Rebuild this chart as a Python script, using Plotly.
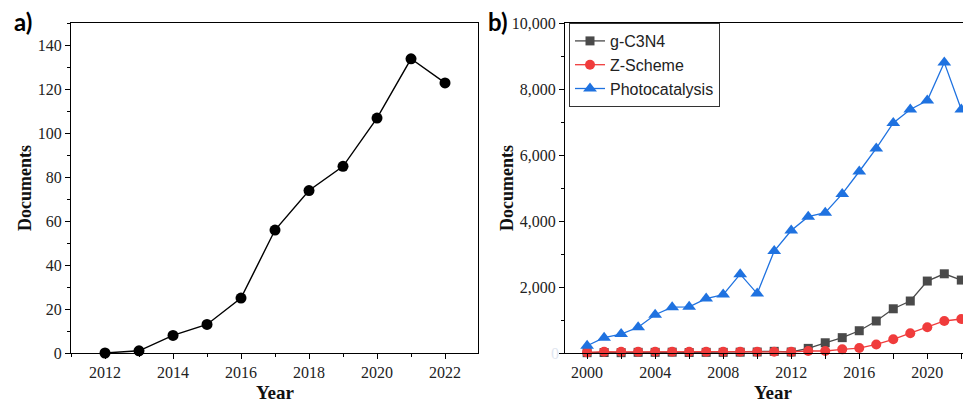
import plotly.graph_objects as go

years_a = [2012, 2013, 2014, 2015, 2016, 2017, 2018, 2019, 2020, 2021, 2022]
docs_a = [0, 1, 8, 13, 25, 56, 74, 85, 107, 134, 123]

years_b = list(range(2000, 2023))
gc3n4 = [10, 15, 10, 20, 20, 25, 15, 20, 20, 25, 30, 50, 30, 140, 310, 465, 675, 970, 1340, 1575, 2180, 2400, 2210]
zscheme = [20, 40, 35, 40, 40, 40, 35, 40, 40, 40, 40, 40, 35, 60, 60, 110, 150, 260, 415, 600, 780, 970, 1030]
photocat = [220, 465, 575, 780, 1160, 1390, 1400, 1650, 1770, 2390, 1800, 3090, 3710, 4130, 4250, 4820, 5500, 6200, 6970, 7380, 7650, 8800, 7380]

# the page body has an 8px margin; size the figure so it fills the 971x405 window
OFF = 8
W, H = 971 - OFF, 405 - OFF


def px(x):
    return (x - OFF) / W


def py(y):
    return 1 - (y - OFF) / H


SERIF = "Liberation Serif"
SANS = "Liberation Sans"

fig = go.Figure()

fig.add_trace(go.Scatter(x=years_a, y=docs_a, mode="lines+markers",
                         line=dict(color="black", width=1.4),
                         marker=dict(color="black", size=11, symbol="circle"),
                         showlegend=False, cliponaxis=False,
                         xaxis="x", yaxis="y"))

fig.add_trace(go.Scatter(x=years_b, y=gc3n4, mode="lines+markers", name="g-C3N4",
                         line=dict(color="#4a4a4a", width=1.3),
                         marker=dict(color="#4a4a4a", size=9, symbol="square"),
                         cliponaxis=False, xaxis="x2", yaxis="y2"))
fig.add_trace(go.Scatter(x=years_b, y=zscheme, mode="lines+markers", name="Z-Scheme",
                         line=dict(color="#f03c3c", width=1.3),
                         marker=dict(color="#f03c3c", size=10, symbol="circle"),
                         cliponaxis=False, xaxis="x2", yaxis="y2"))
fig.add_trace(go.Scatter(x=years_b, y=photocat, mode="lines+markers", name="Photocatalysis",
                         line=dict(color="#1f72e0", width=1.3),
                         marker=dict(color="#1f72e0", size=12, symbol="triangle-up"),
                         cliponaxis=False, xaxis="x2", yaxis="y2"))

tickfont = dict(family=SERIF, size=16, color="#222222")
axis_common = dict(showgrid=False, zeroline=False, showline=True, linecolor="black",
                   linewidth=1.3, ticks="outside", ticklen=5, tickwidth=1.2,
                   tickcolor="black", tickfont=tickfont, automargin=False)

y_top = py(23)
y_bot = py(353)

fig.update_layout(
    width=W, height=H,
    margin=dict(l=0, r=0, t=0, b=0, autoexpand=False),
    paper_bgcolor="white", plot_bgcolor="white",
    xaxis=dict(domain=[px(71), px(478)], range=[2011.0, 2022.97], anchor="y",
               tick0=2012, dtick=2, mirror=True,
               minor=dict(dtick=1, ticklen=3, ticks="outside", tickcolor="black"),
               **axis_common),
    yaxis=dict(domain=[y_bot, y_top], range=[0, 150.3], anchor="x",
               tick0=0, dtick=20, mirror=True,
               minor=dict(dtick=10, ticklen=3, ticks="outside", tickcolor="black"),
               **axis_common),
    xaxis2=dict(domain=[px(565), 1.0], range=[1998.7, 2022.57], anchor="y2",
                tick0=2000, dtick=4, mirror=True,
                minor=dict(dtick=2, ticklen=5, ticks="outside", tickcolor="black"),
                **axis_common),
    yaxis2=dict(domain=[y_bot, y_top], range=[0, 10000], anchor="x2",
                tickvals=[0, 2000, 4000, 6000, 8000, 10000],
                ticktext=["", "2,000", "4,000", "6,000", "8,000", "10,000"],
                mirror=False,
                minor=dict(dtick=1000, ticklen=3, ticks="outside", tickcolor="black"),
                **axis_common),
    legend=dict(x=px(569), y=y_top, xanchor="left", yanchor="top",
                bgcolor="white", bordercolor="#333333", borderwidth=1,
                font=dict(family=SANS, size=16, color="#222222"),
                tracegroupgap=0, itemwidth=30),
    showlegend=True,
)

annotations = [
    dict(text="<b>Documents</b>", x=px(25), y=py(188), xref="paper", yref="paper",
         textangle=-90, showarrow=False, font=dict(family=SERIF, size=18, color="#111111"),
         xanchor="center", yanchor="middle"),
    dict(text="<b>Documents</b>", x=px(507), y=py(188), xref="paper", yref="paper",
         textangle=-90, showarrow=False, font=dict(family=SERIF, size=18, color="#111111"),
         xanchor="center", yanchor="middle"),
    dict(text="<b>Year</b>", x=px(275), y=py(392), xref="paper", yref="paper",
         showarrow=False, font=dict(family=SERIF, size=19, color="#111111"),
         xanchor="center", yanchor="middle"),
    dict(text="<b>Year</b>", x=px(773), y=py(392), xref="paper", yref="paper",
         showarrow=False, font=dict(family=SERIF, size=19, color="#111111"),
         xanchor="center", yanchor="middle"),
    dict(text="<b>a)</b>", x=px(23), y=py(21), xref="paper", yref="paper",
         showarrow=False, font=dict(family="Lato", size=24, color="black"),
         xanchor="center", yanchor="middle"),
    dict(text="<b>b)</b>", x=px(498), y=py(21), xref="paper", yref="paper",
         showarrow=False, font=dict(family="Lato", size=24, color="black"),
         xanchor="center", yanchor="middle"),
    dict(text="0", x=px(555), y=y_bot, xref="paper", yref="paper",
         showarrow=False, font=dict(family=SERIF, size=16, color="#dfe6f0"),
         xanchor="center", yanchor="middle"),
]
fig.update_layout(annotations=annotations)

fig.write_html("out.html")
